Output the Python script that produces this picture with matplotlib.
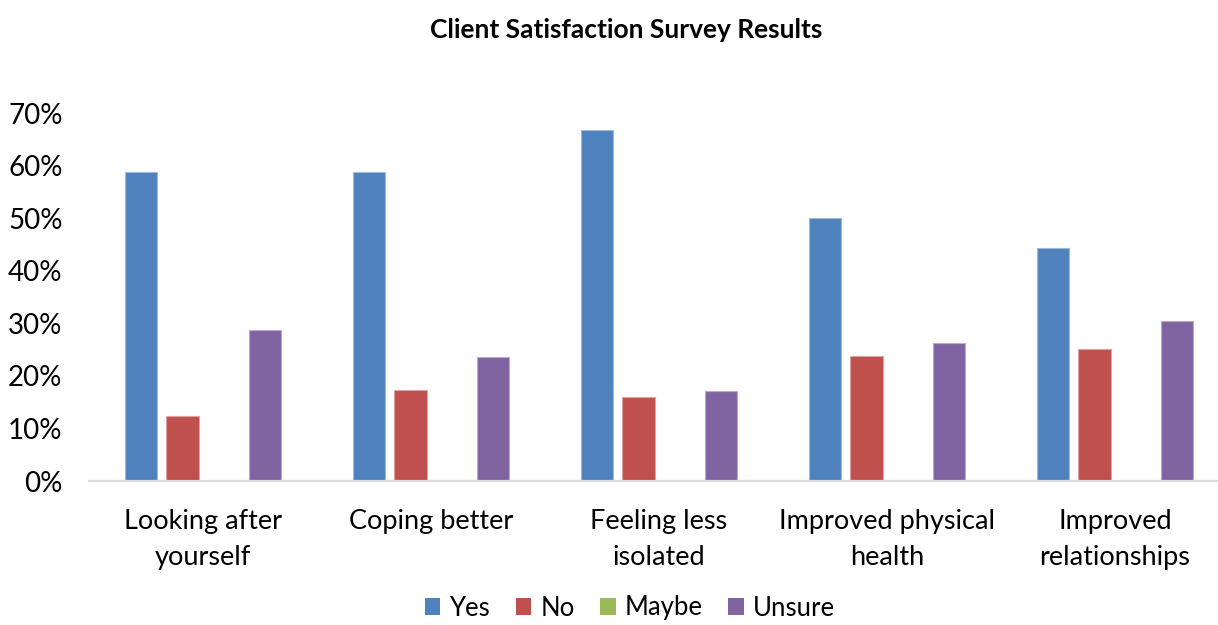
import matplotlib
matplotlib.use("Agg")
import matplotlib.pyplot as plt
from matplotlib.patches import Patch
from matplotlib.ticker import PercentFormatter
import numpy as np

plt.rcParams['font.family'] = ['Lato', 'DejaVu Sans']

# survey results, share of respondents per answer
categories = ["Looking after\nyourself", "Coping better", "Feeling less\nisolated",
              "Improved physical\nhealth", "Improved\nrelationships"]
yes = [0.588, 0.588, 0.668, 0.501, 0.444]
no = [0.124, 0.174, 0.160, 0.237, 0.252]
maybe = [0.0, 0.0, 0.0, 0.0, 0.0]
unsure = [0.288, 0.236, 0.172, 0.262, 0.304]

series = [("Yes", yes, "#4F81BD", "#9DB9DE"),
          ("No", no, "#C0504D", "#E0A3A1"),
          ("Maybe", maybe, "#9BBB59", "#CADBA8"),
          ("Unsure", unsure, "#8064A2", "#BBAACF")]

W, H = 1218, 625
fig = plt.figure(figsize=(W / 100, H / 100), dpi=100)
ax = fig.add_axes([89 / W, (H - 481) / H, (1229 - 89) / W, (481 - 113) / H])

x = np.arange(len(categories))
width = 0.142
pitch = 0.181
for k, (name, vals, color, edge) in enumerate(series):
    ax.bar(x + (k - 1.5) * pitch, vals, width, color=color, edgecolor=edge,
           linewidth=0.8, label=name, zorder=2)

ax.set_xlim(-0.5, len(categories) - 0.5)
ax.set_ylim(0, 0.7)
ax.set_yticks(np.arange(0, 0.71, 0.1))
ax.yaxis.set_major_formatter(PercentFormatter(1.0, decimals=0))
ax.set_xticks(x)
ax.set_xticklabels(categories, fontsize=19.5, linespacing=1.55)
ax.tick_params(axis='y', labelsize=20, length=0, pad=19)
ax.tick_params(axis='x', length=0, pad=20)
for side in ['top', 'right', 'left']:
    ax.spines[side].set_visible(False)
ax.spines['bottom'].set_color('#D9D9D9')
ax.spines['bottom'].set_linewidth(1.6)
ax.spines['bottom'].set_zorder(3)

fig.text(626 / W, 1 - 30 / H, "Client Satisfaction Survey Results",
         ha='center', va='center', fontsize=19, fontweight='bold')

handles = [Patch(facecolor=c, edgecolor='none', label=n) for n, _, c, _ in series]
fig.legend(handles=handles, loc='center', bbox_to_anchor=(630 / W, 1 - 608 / H),
           ncol=4, frameon=False, fontsize=18.5, handlelength=0.6, handleheight=0.6,
           handletextpad=0.35, columnspacing=1.0, borderpad=0.2)

fig.savefig("out.png", dpi=100)
